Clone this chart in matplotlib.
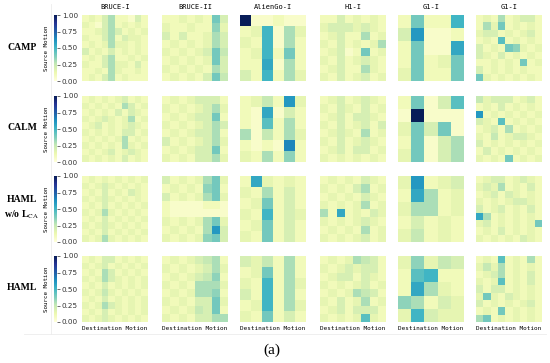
import numpy as np
import matplotlib
matplotlib.use("Agg")
import matplotlib.pyplot as plt
from matplotlib.cm import ScalarMappable
from matplotlib.colors import Normalize

# cell levels, one character per cell:
# base-36 digit n -> n / 20  (so '4' = 0.20, 'a' = 0.50, 'k' = 1.00)
robots = ["BRUCE-I", "BRUCE-II", "AlienGo-I", "H1-I", "G1-I", "G1-I"]
methods = ["CAMP", "CALM", "HAML\nw/o L$_{\\rm CA}$", "HAML"]

camp_bruce1 = ["2324622142", "3214623232", "2234642323", "3224624332", "2323633232",
               "4232423232", "2324622323", "3224633242", "2232632232", "2324623222"]
camp_bruce2 = ["22323284", "32232273", "42422364", "23232364",
               "32323485", "23232384", "32323264", "23232485"]
camp_aliengo = ["k11211", "23a163", "32a162", "23a282", "22b162", "42a263"]
camp_h1 = ["22423232", "34443432", "23422623", "32423236",
           "23412823", "32423432", "23422632", "32423423"]
camp_g1a = ["2822a", "4c112", "2811b", "28238", "38228"]
camp_g1b = ["232623442", "263823232", "344232342", "232923232", "423287323",
            "432423232", "223232823", "423232322", "832323232"]

calm_bruce1 = ["2323234232", "3232326423", "2323242432", "3234323623", "2342323432",
               "3232324423", "2323236232", "3232326323", "2323423432", "3232324232"]
calm_bruce2 = ["23234442", "32323463", "23234482", "32323464",
               "23234462", "42323463", "23234482", "32324463"]
calm_aliengo = ["2352c3", "21b142", "219262", "615263", "2121d2", "326272"]
calm_h1 = ["23423432", "32432423", "23424432", "32423424",
           "23432623", "32423432", "23424423", "32323232"]
calm_g1a = ["28149", "1k111", "38481", "28146", "38146"]
calm_g1b = ["534442342", "232423232", "c23232323", "432923232", "234262323",
            "325234432", "423232323", "242323232", "323282323"]

noca_bruce1 = ["2323232323", "3234323232", "2324232432", "3234323232", "2324232323",
               "3236323232", "2324232323", "3234323232", "2324232323", "3236323232"]
noca_bruce2 = ["42323683", "23232782", "42323683", "21111221",
               "21111111", "32323683", "232326c4", "32323784"]
noca_aliengo = ["2b3232", "326242", "238242", "32a243", "238242", "328242"]
noca_h1 = ["23232432", "32324623", "23232432", "32323623",
           "62b23243", "32323432", "23232623", "32323423"]
noca_g1a = ["3c234", "2b623", "36623", "24232", "35232"]
noca_g1b = ["234423432", "343623242", "234243232", "323234432", "423423242",
            "b62323232", "342323238", "232423232", "323232432"]

haml_bruce1 = ["2324423232", "3234232323", "2326423232", "3236432323", "2324232323",
               "3235323232", "2324232323", "3236432323", "2324232323", "3234323232"]
haml_bruce2 = ["23234562", "32323463", "23234572", "32326663",
               "23236672", "32324483", "23235482", "32324466"]
haml_aliengo = ["435262", "238262", "32a263", "42a262", "23a263", "328242"]
haml_h1 = ["23236542", "32343442", "23442432", "32323423",
           "23236542", "32423623", "23424442", "32323932"]
haml_g1a = ["37354", "29a22", "2b632", "76243", "3a433"]
haml_g1b = ["232923262", "353623232", "234623242", "323923242", "424423232",
            "383243232", "423232342", "232823232", "682323232"]

grid = [
    [camp_bruce1, camp_bruce2, camp_aliengo, camp_h1, camp_g1a, camp_g1b],
    [calm_bruce1, calm_bruce2, calm_aliengo, calm_h1, calm_g1a, calm_g1b],
    [noca_bruce1, noca_bruce2, noca_aliengo, noca_h1, noca_g1a, noca_g1b],
    [haml_bruce1, haml_bruce2, haml_aliengo, haml_h1, haml_g1a, haml_g1b],
]


def parse(rows):
    return np.array([[int(c, 36) / 20 for c in r] for r in rows])


W, H = 550, 363
fig = plt.figure(figsize=(W / 100, H / 100), dpi=100)
plt.rcParams["mathtext.fontset"] = "stix"

col_x = [82, 162, 240, 320, 398, 476]
row_y = [15, 96, 176, 256]
size = 66
mono = "DejaVu Sans Mono"
serif = "Liberation Serif"


def fx(x):
    return x / W


def fy(y):
    return 1 - y / H


# faint frame lines
fig.add_artist(plt.Line2D([fx(51), fx(51)], [fy(4), fy(334)], color="#ececec", lw=0.6))
fig.add_artist(plt.Line2D([fx(24), fx(546)], [fy(334), fy(334)], color="#ececec", lw=0.6))

for i, top in enumerate(row_y):
    for j, left in enumerate(col_x):
        ax = fig.add_axes([fx(left), fy(top + size), size / W, size / H])
        data = parse(grid[i][j])
        ax.pcolormesh(data, cmap="YlGnBu", vmin=0, vmax=1, edgecolors="face", linewidth=0)
        ax.set_xlim(0, data.shape[1])
        ax.set_ylim(data.shape[0], 0)
        ax.set_xticks([])
        ax.set_yticks([])
        for s in ax.spines.values():
            s.set_visible(False)
        if i == 0:
            ax.set_title(robots[j], fontsize=5, family=mono, pad=4)
        if i == len(row_y) - 1:
            ax.set_xlabel("Destination Motion", fontsize=4.3, family=mono, labelpad=3)

    # colorbar
    cax = fig.add_axes([fx(54), fy(top + size), 3 / W, size / H])
    cb = fig.colorbar(ScalarMappable(norm=Normalize(0, 1), cmap="YlGnBu"), cax=cax)
    cb.outline.set_visible(False)
    cb.set_ticks([0, 0.25, 0.5, 0.75, 1.0])
    cb.ax.set_yticklabels(["0.00", "0.25", "0.50", "0.75", "1.00"])
    cb.ax.tick_params(labelsize=5.2, length=2, width=0.5, pad=1.5, colors="#333333")
    fig.text(fx(46), fy(top + size / 2), "Source Motion", rotation=90,
             ha="center", va="center", fontsize=4.2, family=mono)

    # method label
    fig.text(fx(22), fy(top + size / 2 - 1), methods[i], ha="center", va="center",
             fontsize=7, family=serif, weight="bold", linespacing=1.6)

fig.text(fx(272), fy(350), "(a)", ha="center", va="center", fontsize=11, family=serif)

fig.savefig("out.png", dpi=100)
